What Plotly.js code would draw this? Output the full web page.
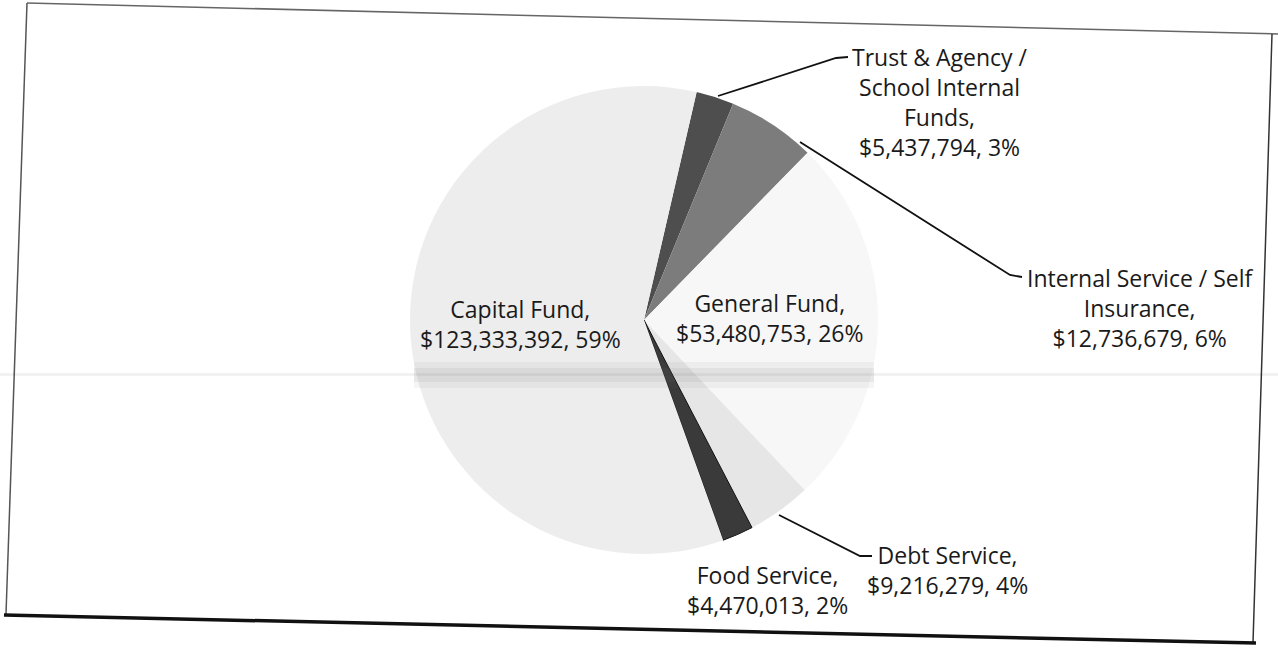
<!DOCTYPE html>
<html>
<head>
<meta charset="utf-8">
<script src="https://cdn.plot.ly/plotly-3.0.1.min.js"></script>
<style>html,body{margin:0;padding:0;background:#fff;}#chart{width:1278px;height:648px;}</style>
</head>
<body>
<div id="chart"></div>
<script>
// ---- data ----
const categories = ['Trust & Agency / School Internal Funds', 'Internal Service / Self Insurance', 'General Fund', 'Debt Service', 'Food Service', 'Capital Fund'];
const labelLines = ['Trust & Agency /<br>School Internal<br>Funds', 'Internal Service / Self<br>Insurance', 'General Fund', 'Debt Service', 'Food Service', 'Capital Fund'];
const amounts = [5437794, 12736679, 53480753, 9216279, 4470013, 123333392];
const sliceColors = ['#4e4e4e', '#7c7c7c', '#f7f7f7', '#e6e6e6', '#3a3a3a', '#ededed'];

// ---- layout helpers (pixel -> paper) ----
const W = 1278, H = 648;
const px = x => x / W;
const py = y => 1 - y / H;

const total = amounts.reduce((a, b) => a + b, 0);
const labelText = amounts.map((v, i) =>
  labelLines[i] + ',<br>$' + v.toLocaleString('en-US') + ', ' + Math.round(v / total * 100) + '%');

// label block centres (pixels)
const labelPos = [[940, 102], [1140, 308], [770, 318], [947, 570], [767, 590], [520, 324]];

const annotations = labelText.map((t, i) => ({
  x: px(labelPos[i][0]), y: py(labelPos[i][1]), xref: 'paper', yref: 'paper',
  text: t, showarrow: false, xanchor: 'center', yanchor: 'middle', align: 'center',
  font: {family: 'Open Sans, sans-serif', size: 23, color: '#1a1a1a'}
}));

function path(pts) {
  return 'M' + pts.map(p => px(p[0]) + ',' + py(p[1])).join(' L');
}
const leaderLines = [
  [[718, 96], [836, 58], [848, 57]],
  [[800, 142], [1010, 275], [1022, 277]],
  [[779, 515], [860, 556], [872, 556]]
];
const shapes = leaderLines.map(pts => ({
  type: 'path', xref: 'paper', yref: 'paper', path: path(pts),
  line: {color: '#111', width: 1.8}
}));
// scanned frame
const frame = [
  {pts: [[27, 3], [1278, 34]], c: '#666', w: 1.5},
  {pts: [[27, 3], [6, 614]], c: '#555', w: 1.5},
  {pts: [[1272, 34], [1253, 643]], c: '#333', w: 1.5},
  {pts: [[4, 615], [1256, 643]], c: '#111', w: 3.5}
];
frame.forEach(f => shapes.push({type: 'path', xref: 'paper', yref: 'paper', path: path(f.pts), line: {color: f.c, width: f.w}}));
// faint scan band
shapes.push({type: 'rect', xref: 'paper', yref: 'paper', x0: px(0), x1: px(1278), y0: py(373), y1: py(376),
  fillcolor: 'rgba(0,0,0,0.05)', line: {width: 0}, layer: 'above'});
shapes.push({type: 'rect', xref: 'paper', yref: 'paper', x0: px(414), x1: px(874), y0: py(362), y1: py(388),
  fillcolor: 'rgba(110,110,110,0.07)', line: {width: 0}, layer: 'above'});
shapes.push({type: 'rect', xref: 'paper', yref: 'paper', x0: px(414), x1: px(874), y0: py(368), y1: py(382),
  fillcolor: 'rgba(110,110,110,0.09)', line: {width: 0}, layer: 'above'});

const trace = {
  type: 'pie',
  labels: categories,
  values: amounts,
  sort: false,
  direction: 'clockwise',
  rotation: 13,
  textinfo: 'none',
  hoverinfo: 'skip',
  marker: {colors: sliceColors, line: {color: ['#4e4e4e', '#7c7c7c', '#f7f7f7', '#e6e6e6', '#111', '#ededed'], width: [0, 0, 0, 0, 1, 0]}},
  domain: {x: [px(644 - 234), px(644 + 234)], y: [py(320 + 234), py(320 - 234)]},
  showlegend: false
};

const layout = {
  width: W, height: H,
  margin: {l: 0, r: 0, t: 0, b: 0},
  paper_bgcolor: '#ffffff',
  plot_bgcolor: '#ffffff',
  showlegend: false,
  annotations: annotations,
  shapes: shapes
};

Plotly.newPlot('chart', [trace], layout, {displayModeBar: false, staticPlot: true});
</script>
</body>
</html>
